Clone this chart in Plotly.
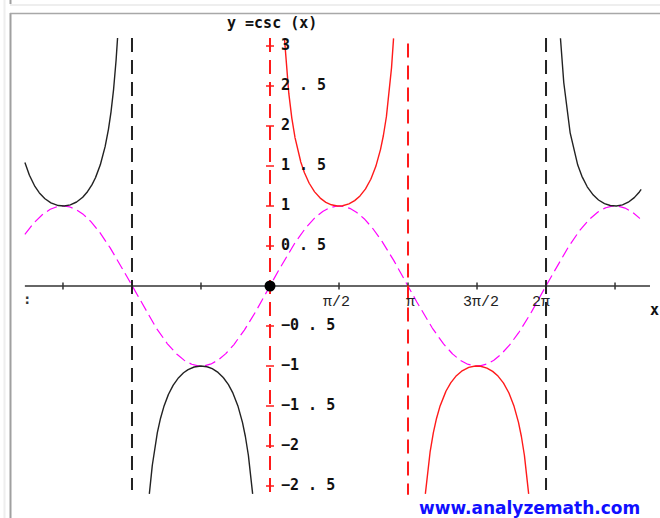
import numpy as np
import plotly.graph_objects as go


#%% Chart values

# x extent of the drawn curves (radians) and the clipping window in y
x_start = -5.58
x_end = 8.45
y_top = 3.1
y_bottom = -2.6

# csc branches: (from, to, colour)
branch_from = [x_start, -np.pi, 0.0, np.pi, 2 * np.pi]
branch_to = [-np.pi, 0.0, np.pi, 2 * np.pi, x_end]
branch_color = ['#222222', '#222222', '#ff1a1a', '#ff1a1a', '#222222']

# vertical asymptotes
asym_x = [-np.pi, 0.0, np.pi, 2 * np.pi]
asym_top = [3.1, 3.1, 3.03, 3.1]
asym_bottom = [-2.55, -2.61, -2.61, -2.55]
asym_color = ['#222222', '#ff1a1a', '#ff1a1a', '#222222']

# axis ticks
x_tick_vals = [k * np.pi / 2 for k in range(-3, 6)]
x_label_vals = [np.pi / 2, np.pi, 3 * np.pi / 2, 2 * np.pi]
x_label_text = ['π/2', 'π', '3π/2', '2π']
x_label_shift = [-3, 2, 4, -5]   # px, labels are not exactly centred on ticks

y_tick_vals = [3, 2.5, 2, 1.5, 1, 0.5, -0.5, -1, -1.5, -2, -2.5]
y_tick_text = ['3', '2 . 5', '2', '1 . 5', '1', '0 . 5',
               '−0 . 5', '−1', '−1 . 5', '−2', '−2 . 5']

# axis line extent
axis_x_from = -5.58
axis_x_to = 8.65


#%% Figure

W, H = 660, 518
px_per_x = 43.93     # pixels per radian
px_per_y = 80.0      # pixels per unit
x0_px, y0_px = 270, 286

x_range = [(0 - x0_px) / px_per_x, (W - x0_px) / px_per_x]
y_range = [(y0_px - H) / px_per_y, y0_px / px_per_y]

fig = go.Figure()

# sine curve (dashed magenta)
xs = np.linspace(x_start, 8.42, 1500)
fig.add_trace(go.Scatter(x=xs, y=np.sin(xs), mode='lines',
                         line=dict(color='#ff00ff', width=1.2, dash='11px,5px')))

# x axis line and ticks
fig.add_trace(go.Scatter(x=[axis_x_from, axis_x_to], y=[0, 0], mode='lines',
                         line=dict(color='#333333', width=1.5)))
tx, ty = [], []
for v in x_tick_vals:
    tx += [v, v, None]
    ty += [3.5 / px_per_y, -3.5 / px_per_y, None]
fig.add_trace(go.Scatter(x=tx, y=ty, mode='lines', line=dict(color='#333333', width=1.5)))

# asymptotes
for xa, yt, yb, c in zip(asym_x, asym_top, asym_bottom, asym_color):
    fig.add_trace(go.Scatter(x=[xa, xa], y=[yt, yb], mode='lines',
                             line=dict(color=c, width=2, dash='14px,8px')))

# y ticks (red crosses on the y axis)
tx, ty = [], []
for v in y_tick_vals:
    tx += [-4 / px_per_x, 4 / px_per_x, None]
    ty += [v, v, None]
fig.add_trace(go.Scatter(x=tx, y=ty, mode='lines', line=dict(color='#ff1a1a', width=1.5)))

# csc branches
for a, b, c in zip(branch_from, branch_to, branch_color):
    xb = np.linspace(a, b, 3000)[1:-1]
    yb = 1 / np.sin(xb)
    keep = (yb <= y_top) & (yb >= y_bottom)
    fig.add_trace(go.Scatter(x=xb[keep], y=yb[keep], mode='lines',
                             line=dict(color=c, width=1.4)))

# origin dot
fig.add_trace(go.Scatter(x=[0], y=[0], mode='markers',
                         marker=dict(color='black', size=11, symbol='circle')))

# y tick labels
fig.add_trace(go.Scatter(x=[11 / px_per_x] * len(y_tick_vals), y=y_tick_vals,
                         mode='text', text=y_tick_text, textposition='middle right',
                         textfont=dict(family='DejaVu Sans Mono', size=15,
                                       color='#111111', weight='bold')))

# x tick labels
for v, t, s in zip(x_label_vals, x_label_text, x_label_shift):
    fig.add_annotation(x=v, y=0, xref='x', yref='y', text=t, showarrow=False,
                       xanchor='center', yanchor='middle',
                       xshift=s, yshift=-16,
                       font=dict(family='Liberation Mono', size=15, color='#222222'))


def add_px_text(x, y, text, font):
    # place a text by its centre, given in pixels from the top-left corner
    fig.add_annotation(x=x / W, y=1 - y / H, xref='paper', yref='paper', text=text,
                       showarrow=False, xanchor='center', yanchor='middle', font=font)


# title and axis name
add_px_text(272, 23, 'y =csc (x)',
            dict(family='DejaVu Sans Mono', size=15, color='#111111', weight='bold'))
add_px_text(654, 310, 'x',
            dict(family='DejaVu Sans Mono', size=15, color='#111111', weight='bold'))

# clipped leftmost tick label stub
add_px_text(27, 299, ':',
            dict(family='DejaVu Sans Mono', size=14, color='#333333', weight='bold'))

# watermark
add_px_text(529, 508, 'www.analyzemath.com',
            dict(family='DejaVu Sans', size=17, color='#1010ff', weight='bold'))

# window frame
frame = [
    dict(x0=4.5, x1=4.5, y0=0, y1=H, color='#eeeeee', w=2),
    dict(x0=10, x1=W, y0=5, y1=5, color='#eeeeee', w=2),
    dict(x0=10.5, x1=10.5, y0=0, y1=4, color='#a0a0a0', w=2),
    dict(x0=10.5, x1=10.5, y0=13, y1=H, color='#a0a0a0', w=2),
    dict(x0=10, x1=W, y0=13.5, y1=13.5, color='#a8a8a8', w=1.5),
]
for f in frame:
    fig.add_shape(type='line', xref='paper', yref='paper',
                  x0=f['x0'] / W, x1=f['x1'] / W,
                  y0=1 - f['y0'] / H, y1=1 - f['y1'] / H,
                  line=dict(color=f['color'], width=f['w']))

fig.update_layout(
    width=W, height=H,
    margin=dict(l=0, r=0, t=0, b=0),
    paper_bgcolor='white', plot_bgcolor='white',
    showlegend=False, hovermode=False,
    xaxis=dict(range=x_range, visible=False, fixedrange=True),
    yaxis=dict(range=y_range, visible=False, fixedrange=True),
)

# the page body has a default 8px margin; drop it so the figure fills the window
fig.write_html('out.html', post_script="document.body.style.margin='0';",
               config=dict(displayModeBar=False))
